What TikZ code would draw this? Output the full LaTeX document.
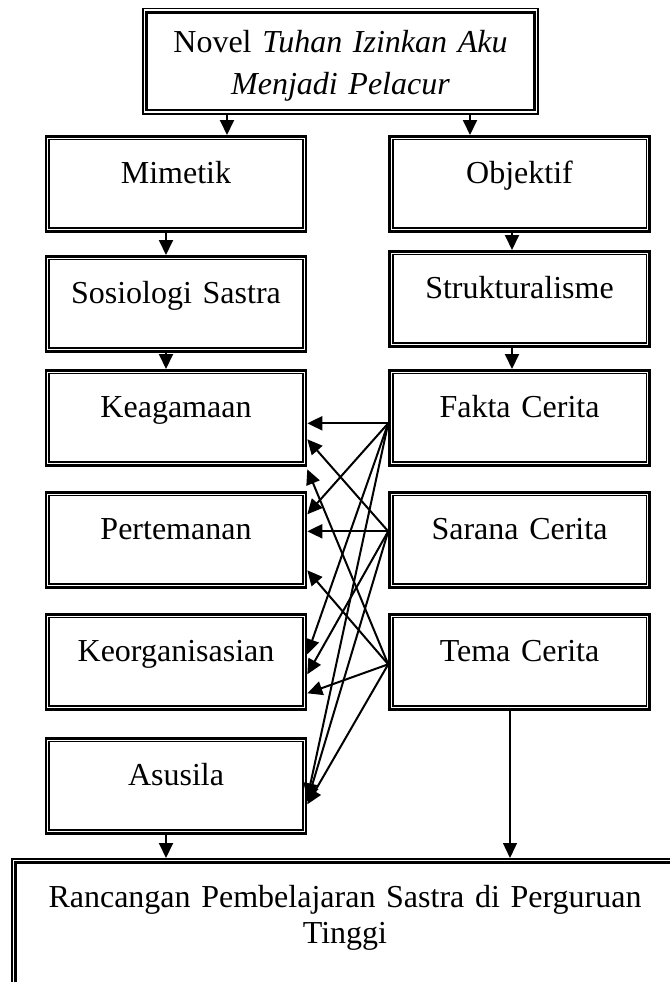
\documentclass[tikz,border=0pt]{standalone}
\usepackage{fontspec}
\setmainfont{Liberation Serif}
\usetikzlibrary{arrows.meta,calc}
\begin{document}
\begin{tikzpicture}[x=1pt,y=-1pt,
  bx/.style={font=\fontsize{32}{38}\selectfont, inner sep=0pt, text width=260pt, align=center,
    text height=47pt, text depth=48pt, anchor=north, draw, line width=2.6pt},
  arr/.style={line width=2pt, -{Triangle[length=15pt,width=14pt]}}]
\useasboundingbox (0,0) rectangle (669,982);
\fill[white] (0,0) rectangle (669,982);

\node[bx, line width=1.5pt, text width=395pt, text height=44pt, text depth=61pt,
  font=\fontsize{32}{42}\selectfont] (top) at (340.5,8)
  {Novel \textit{Tuhan Izinkan Aku}\\ \textit{Menjadi Pelacur}};
\node[bx] (mim) at (176,135) {Mimetik};
\node[bx] (obj) at (519.5,135) {Objektif};
\node[bx] (sos) at (176,255) {Sosiologi Sastra};
\node[bx] (str) at (519.5,250) {Strukturalisme};
\node[bx] (kea) at (176,369) {Keagamaan};
\node[bx] (fak) at (519.5,369) {Fakta Cerita};
\node[bx] (per) at (176,491) {Pertemanan};
\node[bx] (sar) at (519.5,491) {Sarana Cerita};
\node[bx] (keo) at (176,613) {Keorganisasian};
\node[bx] (tem) at (519.5,613) {Tema Cerita};
\node[bx] (asu) at (176,737) {Asusila};
\node[bx, line width=1.5pt, text width=666pt, text height=49pt, text depth=110pt,
  font=\fontsize{32}{36}\selectfont] (ran) at (345,858)
  {Rancangan Pembelajaran Sastra di Perguruan\\ Tinggi};

\foreach \n in {mim,obj,sos,str,kea,fak,per,sar,keo,tem,asu}
  \draw[line width=1.6pt] ([xshift=4.5pt,yshift=4.5pt]\n.south west) rectangle ([xshift=-4.5pt,yshift=-4.5pt]\n.north east);
\foreach \n in {top,ran}
  \draw[line width=2.6pt] ([xshift=4.5pt,yshift=4.5pt]\n.south west) rectangle ([xshift=-4.5pt,yshift=-4.5pt]\n.north east);

\draw[arr] ($(top.south)+(-113.5,0)$) -- ($(mim.north)+(51,0)$);
\draw[arr] ($(top.south)+(129.5,0)$) -- ($(obj.north)+(-49.5,0)$);
\draw[arr] ($(mim.south)+(-10,0)$) -- ($(sos.north)+(-10,0)$);
\draw[arr] ($(obj.south)+(-7.5,0)$) -- ($(str.north)+(-7.5,0)$);
\draw[arr] ($(sos.south)+(-10,0)$) -- ($(kea.north)+(-10,0)$);
\draw[arr] ($(str.south)+(-7.5,0)$) -- ($(fak.north)+(-7.5,0)$);
\draw[arr] ($(asu.south)+(-10,0)$) -- ($(ran.north)+(-179,0)$);
\draw[arr, line width=1.3pt] ($(tem.south)+(-9.5,0)$) -- ($(ran.north)+(165,0)$);

\coordinate (fS) at ($(fak.west)+(0,5.5)$);
\coordinate (sS) at ($(sar.west)+(0,-8.5)$);
\coordinate (tS) at ($(tem.west)+(0,2.5)$);

\draw[arr] (fS) -- ($(kea.east)+(0,5.5)$);
\draw[arr] (fS) -- ($(per.east)+(0,-25.5)$);
\draw[arr] (fS) -- ($(keo.east)+(0,-7.5)$);
\draw[arr] (fS) -- ($(asu.east)+(0,12.5)$);
\draw[arr] (sS) -- ($(kea.east)+(0,21.5)$);
\draw[arr] (sS) -- ($(per.east)+(0,-8.5)$);
\draw[arr] (sS) -- ($(keo.east)+(0,12.5)$);
\draw[arr] (sS) -- ($(asu.east)+(0,15.5)$);
\draw[arr] (tS) -- ($(kea.east)+(0,51.5)$);
\draw[arr] (tS) -- ($(per.east)+(0,30.5)$);
\draw[arr] (tS) -- ($(keo.east)+(0,31.5)$);
\draw[arr] (tS) -- ($(asu.east)+(0,18.5)$);
\end{tikzpicture}
\end{document}
